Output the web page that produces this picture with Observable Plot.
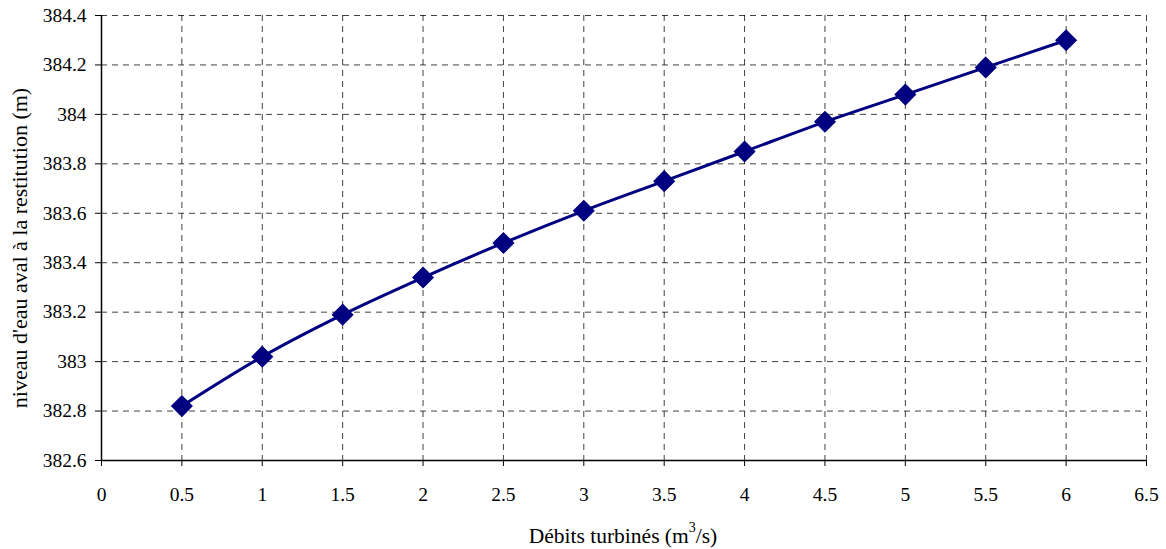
<!DOCTYPE html>
<html>
<head>
<meta charset="utf-8">
<script src="https://cdn.jsdelivr.net/npm/d3@7"></script>
<script src="https://cdn.jsdelivr.net/npm/@observablehq/plot@0.6"></script>
<style>
  html, body { margin: 0; padding: 0; background: #fff; }
  #chart svg { display: block; }
  #chart svg, #chart svg text, #chart svg tspan { font-family: "Liberation Serif", serif !important; }
</style>
</head>
<body>
<div id="chart"></div>
<script>
const debits = [0.5, 1, 1.5, 2, 2.5, 3, 3.5, 4, 4.5, 5, 5.5, 6];
const niveaux = [382.82, 383.02, 383.19, 383.34, 383.48, 383.61, 383.73, 383.85, 383.97, 384.08, 384.19, 384.30];
const xTicks = [0, 0.5, 1, 1.5, 2, 2.5, 3, 3.5, 4, 4.5, 5, 5.5, 6, 6.5];
const yTicks = [382.6, 382.8, 383, 383.2, 383.4, 383.6, 383.8, 384, 384.2, 384.4];
const xLabel = "Débits turbinés (m";
const yLabel = "niveau d'eau aval à la restitution (m)";

const data = debits.map((d, i) => ({x: d, y: niveaux[i]}));

const plot = Plot.plot({
  width: 1166,
  height: 549,
  marginLeft: 101,
  marginRight: 20,
  marginTop: 15,
  marginBottom: 89,
  style: {fontSize: "19.5px", color: "#000", background: "#fff"},
  x: {domain: [0, 6.5], ticks: xTicks, tickFormat: d => String(d), label: null},
  y: {domain: [382.6, 384.4], ticks: yTicks, tickFormat: d => String(+d.toFixed(1)), label: null},
  marks: [
    Plot.gridX(xTicks.slice(1), {stroke: "#000", strokeOpacity: 0.75, strokeDasharray: "6,5", strokeWidth: 1}),
    Plot.gridY(yTicks.slice(1), {stroke: "#000", strokeOpacity: 0.75, strokeDasharray: "6,5", strokeWidth: 1}),
    Plot.axisX({ticks: xTicks, tickSize: 6, tickPadding: 21, tickFormat: d => String(d), fontSize: 19.5, label: null}),
    Plot.axisY({ticks: yTicks, tickSize: 6, tickPadding: 9, tickFormat: d => String(+d.toFixed(1)), fontSize: 19.5, label: null}),
    Plot.ruleX([0], {stroke: "#000", strokeWidth: 1.5}),
    Plot.ruleY([382.6], {stroke: "#000", strokeWidth: 1.5}),
    Plot.line(data, {x: "x", y: "y", stroke: "#000080", strokeWidth: 3, curve: "catmull-rom"}),
    Plot.dot(data, {x: "x", y: "y", symbol: "diamond2", r: 9, fill: "#000080", stroke: "#000080"})
  ]
});

document.getElementById("chart").appendChild(plot);

const svg = d3.select(plot);
const xt = svg.append("text")
  .attr("x", 623)
  .attr("y", 543)
  .attr("text-anchor", "middle")
  .attr("font-size", 21.5)
  .attr("fill", "#000");
xt.append("tspan").text(xLabel);
xt.append("tspan").attr("dy", -11).attr("font-size", 14).text("3");
xt.append("tspan").attr("dy", 11).text("/s)");

svg.append("text")
  .attr("transform", "translate(27, 248) rotate(-90)")
  .attr("text-anchor", "middle")
  .attr("font-size", 22)
  .attr("fill", "#000")
  .text(yLabel);
</script>
</body>
</html>
